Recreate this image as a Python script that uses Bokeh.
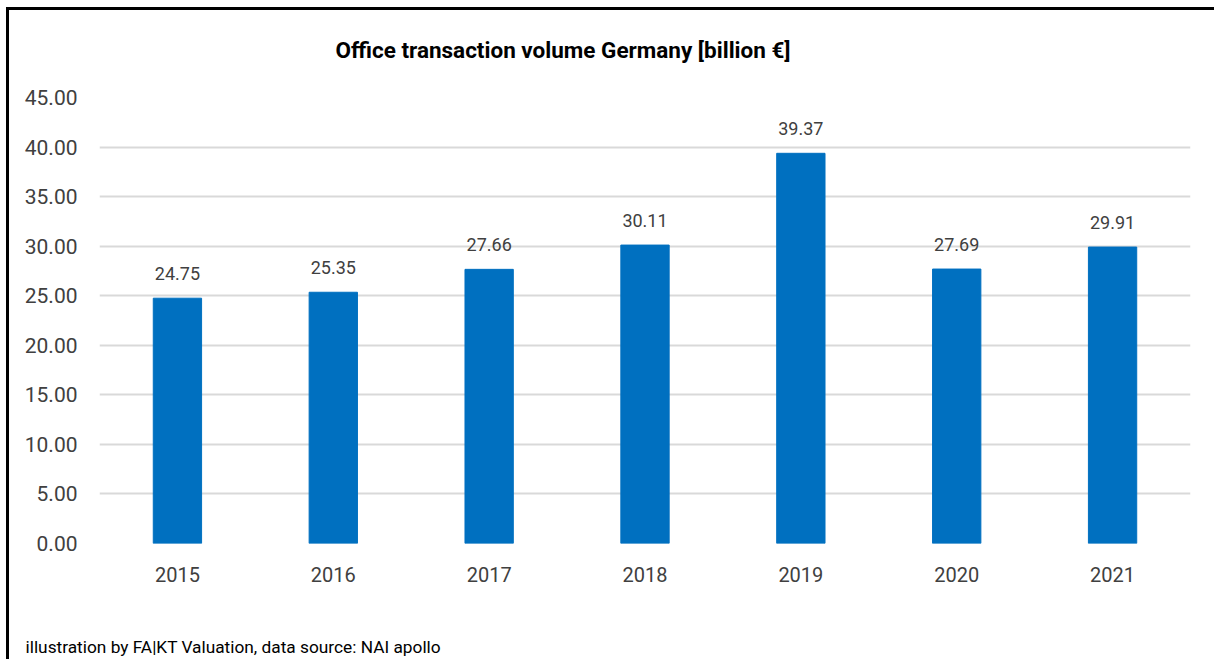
from bokeh.plotting import figure
from bokeh.layouts import column
from bokeh.models import ColumnDataSource, Range1d, LabelSet, SingleIntervalTicker, CustomJSTickFormatter
from bokeh.core.properties import value
from bokeh.embed import file_html
from bokeh.resources import INLINE

years = ["2015", "2016", "2017", "2018", "2019", "2020", "2021"]
volumes = [24.75, 25.35, 27.66, 30.11, 39.37, 27.69, 29.91]
labels = ["24.75", "25.35", "27.66", "30.11", "39.37", "27.69", "29.91"]

title_text = "Office transaction volume Germany [billion €]"
footer_text = "illustration by FA|KT Valuation, data source: NAI apollo"

FONT = "Roboto"

src = ColumnDataSource(dict(x=years, top=volumes, label=labels))

p = figure(x_range=years, y_range=Range1d(0, 45), width=1214, height=625,
           output_backend="svg", toolbar_location=None,
           min_border_left=99, min_border_right=24, min_border_top=96, min_border_bottom=82)
p.border_fill_color = None
p.background_fill_color = "#ffffff"

p.vbar(x="x", top="top", width=0.31, source=src, color="#0070C0")

p.add_layout(LabelSet(x="x", y="top", text="label", source=src, text_align="center",
                      text_baseline="bottom", y_offset=18, text_font=value(FONT),
                      text_font_size=value("18px"), text_color=value("#404040")))

p.title.text = title_text
p.title.align = "left"
p.title.offset = 236
p.title.vertical_align = "bottom"
p.title.text_font = FONT
p.title.text_font_size = "22.5px"
p.title.text_font_style = "bold"
p.title.text_color = "#000000"
p.title.standoff = 69

p.yaxis.ticker = SingleIntervalTicker(interval=5)
p.yaxis.formatter = CustomJSTickFormatter(code="return tick.toFixed(2);")
for ax in (p.xaxis, p.yaxis):
    ax.axis_line_color = None
    ax.major_tick_line_color = None
    ax.minor_tick_line_color = None
    ax.major_label_text_font = FONT
    ax.major_label_text_color = "#404040"
p.yaxis.major_label_text_font_size = "21px"
p.xaxis.major_label_text_font_size = "20px"
p.yaxis.major_label_standoff = 16
p.xaxis.major_label_standoff = 17

p.xgrid.grid_line_color = None
p.ygrid.grid_line_color = "#d9d9d9"
p.ygrid.grid_line_width = 2
p.outline_line_color = None
p.x_range.range_padding = 0.0

# footer strip
f = figure(width=1214, height=34, output_backend="svg", toolbar_location=None,
           x_axis_type=None, y_axis_type=None,
           min_border_left=99, min_border_right=24, min_border_top=33, min_border_bottom=0)
f.border_fill_color = None
f.background_fill_color = None
f.outline_line_color = None
f.title.text = footer_text
f.title.align = "left"
f.title.offset = -74
f.title.vertical_align = "bottom"
f.title.standoff = 4
f.title.text_font = FONT
f.title.text_font_size = "17.3px"
f.title.text_font_style = "normal"
f.title.text_color = "#000000"

layout = column(p, f, spacing=0)
layout.styles = {
    "background": "linear-gradient(#000,#000) 6px 7px / 3px calc(100% - 7px) no-repeat, "
                  "linear-gradient(#000,#000) 6px 7px / calc(100% - 6px) 3px no-repeat, #ffffff"
}

open("out.html", "w").write(file_html(layout, INLINE))
